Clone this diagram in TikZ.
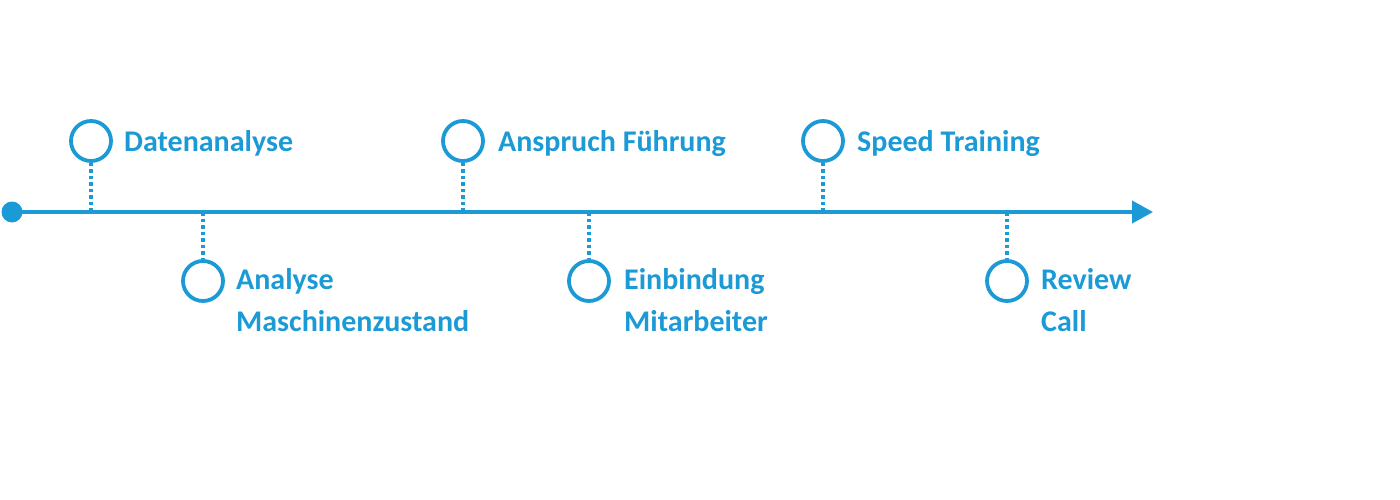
\documentclass[tikz,border=0pt]{standalone}
\usepackage{fontspec}
\setmainfont{Carlito}
\usetikzlibrary{arrows.meta}
\definecolor{tl}{RGB}{27,154,214}
\begin{document}
\begin{tikzpicture}[x=1pt,y=-1pt,
  milestone/.style={circle,draw=tl,line width=3.8pt,minimum size=40pt,inner sep=0pt,fill=white},
  lbl/.style={anchor=base west,inner sep=0pt,text=tl,font=\bfseries\fontsize{30}{42.4}\selectfont,align=left},
  dotline/.style={draw=tl,line width=3.5pt,dash pattern=on 3.5pt off 3pt}]
\useasboundingbox (0,0) rectangle (1400,500);
\coordinate (start) at (12,212);
\coordinate (end) at (1153,212);
\draw[tl,line width=4pt,-{Triangle[length=21pt,width=22pt]}] (start) -- (end);
\fill[tl] (start) circle (10.5pt);
% markers
\node[milestone] (c1) at (91,141) {};
\node[milestone] (c2) at (203,281) {};
\node[milestone] (c3) at (463,141) {};
\node[milestone] (c4) at (589,281) {};
\node[milestone] (c5) at (823,141) {};
\node[milestone] (c6) at (1007,281) {};
\coordinate (p1) at (91,212);
\coordinate (p2) at (203,212);
\coordinate (p3) at (463,212);
\coordinate (p4) at (589,212);
\coordinate (p5) at (823,212);
\coordinate (p6) at (1007,212);
\draw[dotline] (c1.south) -- (p1);
\draw[dotline] (p2) -- (c2.north);
\draw[dotline] (c3.south) -- (p3);
\draw[dotline] (p4) -- (c4.north);
\draw[dotline] (c5.south) -- (p5);
\draw[dotline] (p6) -- (c6.north);
% labels
\node[lbl] (t1) at (124,151) {Datenanalyse};
\node[lbl] (t2) at (236,331.7) {Analyse\\Maschinenzustand};
\node[lbl] (t3) at (498,151) {Anspruch Führung};
\node[lbl] (t4) at (624,331.7) {Einbindung\\Mitarbeiter};
\node[lbl] (t5) at (857,151) {Speed Training};
\node[lbl] (t6) at (1041,331.7) {Review\\Call};
\end{tikzpicture}
\end{document}
